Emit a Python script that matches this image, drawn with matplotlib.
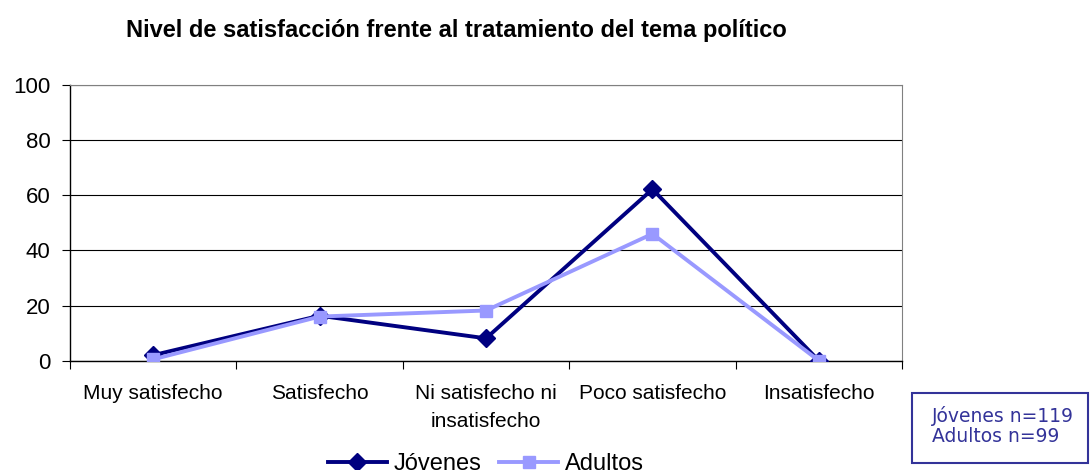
import matplotlib
matplotlib.use("Agg")
import matplotlib.pyplot as plt
from matplotlib.patches import Rectangle

# Nivel de satisfacción (%) por grupo
categorias = ["Muy satisfecho", "Satisfecho", "Ni satisfecho ni\ninsatisfecho",
              "Poco satisfecho", "Insatisfecho"]
jovenes = [2.0, 16.3, 8.1, 62.2, 0.0]
adultos = [0.5, 16.0, 18.2, 46.0, 0.0]
yticks = [0, 20, 40, 60, 80, 100]

plt.rcParams['font.family'] = ['Liberation Sans', 'DejaVu Sans']

fig = plt.figure(figsize=(10.91, 4.70), dpi=100)
ax = fig.add_axes([0.0642, 0.2326, 0.7626, 0.5866])

x = list(range(len(categorias)))
ax.plot(x, jovenes, color='#000080', lw=2.8, marker='D', markersize=9.5,
        label='Jóvenes', zorder=3)
ax.plot(x, adultos, color='#9999FF', lw=2.8, marker='s', markersize=8.5,
        label='Adultos', zorder=4)

ax.set_xlim(-0.5, len(categorias) - 0.5)
ax.set_ylim(0, 100)
ax.set_yticks(yticks)
ax.tick_params(axis='y', labelsize=16, length=6, width=0.8, direction='out', pad=8)

# categorías sin tick, ticks en los bordes entre categorías
ax.set_xticks(x)
ax.set_xticklabels(categorias, fontsize=15, linespacing=1.55)
ax.tick_params(axis='x', which='major', length=0, pad=17)
ax.set_xticks([i - 0.5 for i in range(len(categorias) + 1)], minor=True)
ax.tick_params(axis='x', which='minor', length=6, width=0.8, direction='out')

ax.grid(axis='y', color='black', lw=0.8)
ax.set_axisbelow(True)
for s in ['top', 'right']:
    ax.spines[s].set_color('#808080')
ax.spines['left'].set_linewidth(1.0)
ax.spines['bottom'].set_linewidth(1.0)

fig.text(0.418, 0.936, 'Nivel de satisfacción frente al tratamiento del tema político',
         ha='center', va='center', fontsize=17, fontweight='bold')

fig.legend(loc='center', bbox_to_anchor=(0.4455, 0.0128), ncol=2, frameon=False,
           fontsize=17, handlelength=2.5, columnspacing=0.75, handletextpad=0.3,
           borderaxespad=0, borderpad=0)

# recuadro con tamaños de muestra
fig.patches.append(Rectangle((912 / 1091, 1 - 463 / 470), 176 / 1091, 70 / 470,
                             transform=fig.transFigure, fc='white', ec='#333399',
                             lw=1.5))
fig.text(932 / 1091, 1 - 416 / 470, 'Jóvenes n=119', fontsize=13.5,
         family='DejaVu Sans', color='#333399', va='center', ha='left')
fig.text(932 / 1091, 1 - 436 / 470, 'Adultos n=99', fontsize=13.5,
         family='DejaVu Sans', color='#333399', va='center', ha='left')

fig.savefig('out.png', dpi=100)
